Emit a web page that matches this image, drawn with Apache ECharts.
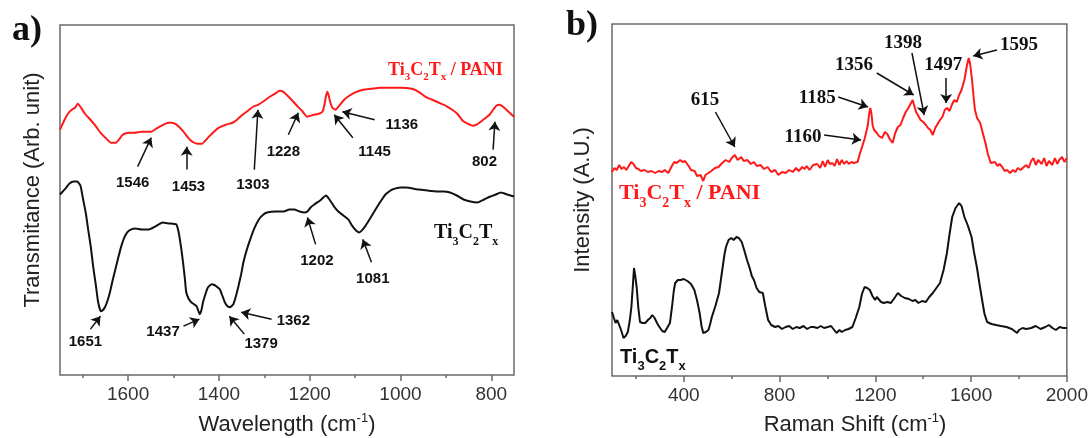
<!DOCTYPE html>
<html><head><meta charset="utf-8">
<script src="https://cdn.jsdelivr.net/npm/echarts/dist/echarts.min.js"></script>
<style>html,body{margin:0;padding:0;background:#fff}#c{width:1091px;height:438px}</style>
</head><body><div id="c"></div>
<script>
// ---------- data ----------
const ftirTicks = [800, 1000, 1200, 1400, 1600];
const ftirMinorTicks = [900, 1100, 1300, 1500, 1700];
const ramanTicks = [400, 800, 1200, 1600, 2000];
const ramanMinorTicks = [200, 600, 1000, 1400, 1800];

// FTIR (wavenumber, transmittance a.u.)
const ftirPani = [[1750,246],[1740,256],[1731,263],[1724,266],[1717,268],[1711,272],[1705,269],[1695,262],[1683,256],[1672,250],[1661,243],[1650,238],[1638,233],[1627,233],[1620,236],[1612,241],[1600,243],[1586,243],[1570,244],[1549,244],[1538,247],[1526,250],[1512,253],[1505,253],[1497,252],[1488,249],[1478,244],[1468,238],[1459,234],[1447,232],[1437,232],[1430,235],[1422,239],[1411,244],[1400,248],[1385,251],[1370,253],[1360,256],[1348,261],[1336,265],[1325,269],[1314,271],[1303,274],[1288,279],[1277,282],[1266,285],[1258,284],[1251,281],[1240,276],[1228,270],[1217,265],[1206,259],[1198,260],[1191,261],[1180,262],[1172,264],[1168,270],[1164,280],[1161,284],[1158,280],[1155,274],[1150,268],[1143,266],[1135,270],[1124,276],[1113,280],[1102,283],[1083,286],[1064,287],[1045,288],[1027,288],[1000,288],[975,287],[960,284],[945,279],[930,276],[915,273],[900,270],[886,266],[875,262],[863,255],[852,252],[841,250],[833,251],[826,253],[815,257],[804,261],[796,266],[789,270],[782,271],[774,269],[762,264],[750,259]];
const ftirMxene = [[1750,181],[1744,184],[1738,187],[1729,192],[1720,194],[1712,194],[1705,190],[1699,176],[1693,162],[1688,146],[1682,128],[1677,109],[1671,90],[1666,73],[1660,64],[1656,65],[1651,68],[1645,75],[1640,83],[1634,95],[1628,106],[1622,117],[1617,126],[1610,136],[1602,143],[1593,146],[1584,147],[1570,146],[1554,146],[1540,149],[1524,153],[1510,152],[1494,151],[1490,146],[1487,139],[1483,127],[1479,113],[1475,97],[1472,83],[1466,76],[1461,73],[1455,71],[1449,69],[1445,64],[1442,61],[1438,66],[1435,73],[1429,82],[1424,88],[1416,91],[1409,90],[1403,88],[1398,86],[1392,79],[1387,73],[1381,69],[1375,68],[1370,70],[1368,71],[1362,80],[1357,89],[1351,101],[1346,113],[1339,125],[1331,136],[1322,147],[1312,156],[1302,161],[1294,163],[1275,164],[1257,164],[1245,166],[1234,166],[1222,164],[1212,163],[1205,164],[1198,168],[1190,171],[1177,175],[1164,180],[1158,177],[1152,173],[1145,168],[1137,164],[1126,160],[1115,156],[1107,150],[1100,146],[1091,143],[1085,145],[1078,149],[1067,157],[1055,166],[1044,174],[1033,181],[1025,184],[1018,186],[1000,188],[988,188],[960,186],[921,184],[905,184],[891,183],[876,180],[861,176],[846,174],[831,173],[816,176],[802,179],[790,181],[779,183],[765,181],[750,179]];

// Raman (shift, intensity a.u.)
const ramanPani = [[100,204],[110,208],[120,206],[130,211],[140,207],[150,209],[160,206],[170,210],[180,214],[190,212],[200,208],[210,207],[220,205],[235,206],[250,204],[265,205],[280,203],[295,205],[310,204],[320,206],[335,203],[350,210],[360,214],[370,213],[385,216],[395,214],[405,215],[420,210],[430,206],[445,205],[455,200],[470,201],[481,195],[490,201],[503,203],[515,205],[530,208],[545,209],[560,213],[575,216],[590,214],[600,218],[613,221],[625,216],[640,219],[650,215],[665,216],[680,212],[693,214],[705,210],[720,211],[735,207],[750,209],[765,204],[781,206],[795,201],[810,204],[825,203],[840,206],[855,204],[869,208],[880,205],[895,209],[905,207],[913,210],[925,206],[940,211],[957,212],[970,208],[980,215],[990,209],[1001,216],[1010,212],[1020,213],[1030,210],[1040,217],[1050,211],[1060,216],[1070,212],[1080,215],[1089,212],[1100,214],[1110,213],[1126,214],[1135,222],[1147,231],[1155,237],[1162,244],[1168,250],[1174,262],[1179,268],[1184,262],[1189,250],[1195,246],[1206,243],[1215,240],[1228,238],[1240,244],[1250,242],[1260,237],[1272,233],[1283,243],[1294,249],[1305,251],[1316,258],[1327,264],[1338,268],[1347,272],[1356,276],[1363,270],[1370,264],[1380,260],[1389,256],[1400,254],[1411,251],[1420,248],[1430,246],[1440,241],[1450,248],[1460,252],[1470,256],[1480,259],[1490,266],[1499,268],[1510,265],[1521,272],[1530,276],[1540,274],[1550,281],[1560,286],[1572,296],[1582,310],[1590,318],[1596,312],[1604,296],[1610,280],[1616,266],[1625,258],[1638,253],[1650,242],[1660,233],[1670,222],[1682,213],[1690,212],[1700,214],[1710,210],[1719,212],[1730,209],[1740,205],[1750,206],[1763,203],[1775,206],[1785,204],[1795,208],[1807,206],[1820,209],[1830,211],[1840,208],[1851,215],[1860,218],[1870,211],[1880,216],[1895,212],[1905,218],[1915,210],[1925,215],[1939,211],[1950,218],[1960,212],[1968,216],[1980,219],[1990,214],[2000,218]];
const ramanMxene = [[100,64],[108,58],[115,53],[122,56],[129,54],[138,46],[148,38],[157,40],[166,44],[174,55],[181,69],[187,90],[192,108],[197,100],[203,89],[210,68],[217,54],[228,53],[239,53],[250,56],[260,58],[268,61],[278,58],[288,53],[298,49],[310,45],[320,44],[330,48],[342,53],[352,72],[358,85],[364,93],[375,96],[386,96],[400,97],[415,95],[430,92],[444,86],[455,76],[466,63],[474,50],[481,43],[492,44],[503,46],[510,52],[517,59],[532,70],[547,83],[560,105],[570,122],[576,129],[587,136],[598,138],[608,136],[620,139],[630,138],[642,134],[652,126],[664,116],[675,108],[684,100],[693,96],[704,88],[715,84],[722,82],[730,83],[740,70],[752,56],[765,51],[781,49],[795,50],[810,47],[825,49],[840,50],[855,47],[870,49],[884,48],[900,50],[915,47],[930,49],[942,49],[958,48],[972,50],[986,48],[1001,49],[1015,50],[1025,47],[1038,43],[1050,46],[1060,44],[1074,46],[1088,47],[1104,49],[1118,58],[1133,69],[1144,82],[1155,89],[1166,88],[1177,86],[1188,80],[1199,76],[1206,79],[1213,78],[1224,74],[1235,73],[1250,74],[1265,73],[1280,78],[1294,83],[1308,80],[1323,78],[1340,77],[1355,75],[1367,76],[1380,73],[1395,75],[1411,74],[1425,79],[1440,83],[1455,88],[1470,93],[1485,106],[1499,123],[1510,142],[1521,159],[1535,168],[1550,173],[1560,170],[1572,159],[1587,150],[1602,139],[1612,124],[1624,109],[1635,92],[1646,76],[1656,62],[1667,54],[1685,52],[1704,51],[1725,50],[1748,49],[1770,47],[1792,43],[1800,46],[1815,48],[1830,47],[1851,48],[1870,50],[1890,47],[1910,49],[1925,51],[1940,48],[1954,46],[1970,49],[1985,48],[2000,48]];

// peak annotations (label position, arrow tail, arrow head) in data units
const ftirPeaks = [
 {t:'1546', at:[1590,193], from:[1579,209], to:[1549,238]},
 {t:'1453', at:[1467,189], from:[1471,206], to:[1471,229]},
 {t:'1303', at:[1325,191], from:[1322,206], to:[1314,266]},
 {t:'1228', at:[1258,224], from:[1247,241], to:[1225,263]},
 {t:'1145', at:[1057,224], from:[1105,238], to:[1146,261]},
 {t:'1136', at:[997,251], from:[1057,256], to:[1128,264]},
 {t:'802',  at:[815,214], from:[796,226], to:[792,254]},
 {t:'1202', at:[1184,114], from:[1187,131], to:[1205,158]},
 {t:'1081', at:[1061,96], from:[1064,113], to:[1083,136]},
 {t:'1651', at:[1694,33], from:[1683,46], to:[1661,59]},
 {t:'1437', at:[1523,43], from:[1478,49], to:[1443,56]},
 {t:'1362', at:[1236,54], from:[1284,56], to:[1351,63]},
 {t:'1379', at:[1307,31], from:[1344,41], to:[1377,59]}
];
const ramanPeaks = [
 {t:'615',  at:[488,276], from:[532,264], to:[613,229]},
 {t:'1185', at:[957,278], from:[1045,279], to:[1169,269]},
 {t:'1160', at:[898,239], from:[986,241], to:[1140,236]},
 {t:'1356', at:[1111,311], from:[1206,303], to:[1360,281]},
 {t:'1398', at:[1316,333], from:[1353,323], to:[1404,261]},
 {t:'1497', at:[1484,311], from:[1496,298], to:[1496,273]},
 {t:'1595', at:[1800,331], from:[1708,326], to:[1609,320]}
];

// ---------- chart ----------
const SANS = 'Liberation Sans, Arial, sans-serif';
const SERIF = 'Liberation Serif, Times New Roman, serif';
const AX = '#6a6a6a';
const chart = echarts.init(document.getElementById('c'), null, {renderer:'canvas'});

function xAx(grid, min, max, inverse, ticks, major) {
  return {
    type:'value', gridIndex:grid, position:'bottom', offset:0, min:min, max:max, inverse:inverse,
    axisLine:{show:false, onZero:false},
    splitLine:{show:false},
    axisTick:{show:true, inside:false, length: major ? 6 : 3, customValues: ticks, lineStyle:{color:AX, width:1.5}},
    axisLabel:{show:major, customValues: ticks, formatter: v => String(v), fontFamily:SANS, fontSize:19, color:'#333', margin:10}
  };
}
function annot(peaks, font, size) {
  return {
    markLine:{silent:true, animation:false, symbol:['none','arrow'], symbolSize:9,
      lineStyle:{color:'#111', width:1.5, type:'solid'}, label:{show:false},
      data: peaks.map(p => [{coord:p.from},{coord:p.to}])},
    markPoint:{silent:true, animation:false, symbol:'rect', symbolSize:1,
      itemStyle:{color:'rgba(0,0,0,0)'},
      label:{show:true, position:'inside', formatter:'{b}', color:'#111', fontWeight:'bold', fontFamily:font, fontSize:size},
      data: peaks.map(p => ({name:p.t, coord:p.at}))}
  };
}
function chem(x, y, color, fam, size, sub, lh, suffix) {
  const m = {fontSize:size, fontWeight:'bold', fontFamily:fam, fill:color, lineHeight:lh};
  const s = {fontSize:sub, fontWeight:'bold', fontFamily:fam, fill:color, lineHeight:sub, verticalAlign:'bottom'};
  return {type:'text', x:x, y:y, silent:true, style:{
    text:'{m|Ti}{s|3}{m|C}{s|2}{m|T}{s|x}' + (suffix ? '{m|' + suffix + '}' : ''),
    rich:{m:m, s:s}, align:'left', verticalAlign:'middle'}};
}
function title(x, y, txt, rot) {
  const m = {fontSize:22, fontFamily:SANS, fill:'#222', lineHeight:26};
  const p = {fontSize:13, fontFamily:SANS, fill:'#222', lineHeight:13, verticalAlign:'top'};
  const el = {type:'text', x:x, y:y, silent:true, style:{text:txt, rich:{m:m, p:p}, align:'center', verticalAlign:'middle'}};
  if (rot) el.rotation = Math.PI/2;
  return el;
}

const option = {
  animation:false,
  backgroundColor:'#fff',
  grid:[
    {left:60, top:25, width:454, height:350, show:true, borderColor:AX, borderWidth:1.5, backgroundColor:'transparent'},
    {left:612, top:24, width:456, height:352, show:true, borderColor:AX, borderWidth:1.5, backgroundColor:'transparent'}
  ],
  xAxis:[
    xAx(0, 750, 1750, true, ftirTicks, true),
    xAx(0, 750, 1750, true, ftirMinorTicks, false),
    xAx(1, 100, 2000, false, ramanTicks, true),
    xAx(1, 100, 2000, false, ramanMinorTicks, false)
  ],
  yAxis:[
    {type:'value', gridIndex:0, min:0, max:351, show:false},
    {type:'value', gridIndex:1, min:0, max:352, show:false}
  ],
  series:[
    {type:'line', xAxisIndex:0, yAxisIndex:0, data:ftirPani, showSymbol:false, smooth:0.15,
      lineStyle:{color:'#ff1a1a', width:2}},
    Object.assign({type:'line', xAxisIndex:0, yAxisIndex:0, data:ftirMxene, showSymbol:false, smooth:0.15,
      lineStyle:{color:'#111', width:2}}, annot(ftirPeaks, SANS, 15)),
    {type:'line', xAxisIndex:2, yAxisIndex:1, data:ramanPani, showSymbol:false,
      lineStyle:{color:'#ff1a1a', width:2}},
    Object.assign({type:'line', xAxisIndex:2, yAxisIndex:1, data:ramanMxene, showSymbol:false,
      lineStyle:{color:'#111', width:2}}, annot(ramanPeaks, SERIF, 19))
  ],
  graphic:[
    {type:'text', x:12, y:31, silent:true, style:{text:'a)', fontSize:36, fontWeight:'bold', fontFamily:SERIF, fill:'#111', verticalAlign:'middle'}},
    {type:'text', x:566, y:26, silent:true, style:{text:'b)', fontSize:36, fontWeight:'bold', fontFamily:SERIF, fill:'#111', verticalAlign:'middle'}},
    chem(388, 70, '#ff1a1a', SERIF, 18, 11, 25, ' / PANI'),
    chem(434, 233, '#111', SERIF, 20, 12, 30, ''),
    chem(619, 193, '#ff1a1a', SERIF, 22, 14, 34, ' / PANI'),
    chem(620, 357, '#111', SANS, 20, 13, 32, ''),
    title(33, 190, '{m|Transmitance (Arb. unit)}', true),
    title(583, 200, '{m|Intensity (A.U.)}', true),
    title(287, 425, '{m|Wavelength (cm}{p|-1}{m|)}', false),
    title(855, 425, '{m|Raman Shift (cm}{p|-1}{m|)}', false)
  ]
};
chart.setOption(option);
</script></body></html>
